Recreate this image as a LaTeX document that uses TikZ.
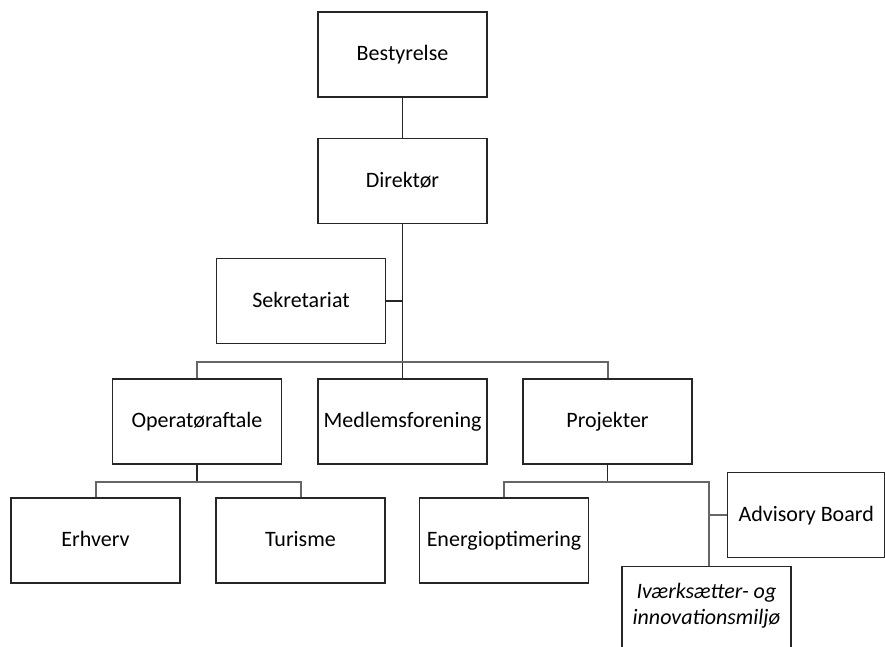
\documentclass[tikz,border=0pt]{standalone}
\usepackage{fontspec}
\setmainfont{Carlito}
\begin{document}
\begin{tikzpicture}[x=1pt,y=-1pt,
  box/.style={draw=black!85,line width=1.4pt,minimum width=169pt,minimum height=85pt,inner sep=0pt,align=center,font=\fontsize{22}{27}\selectfont,text height=17pt,text depth=5pt},
  lbl/.style={align=center,inner sep=0pt,font=\fontsize{22}{26}\selectfont\itshape},
  vline/.style={draw=black!85,line width=1.8pt},
  hline/.style={draw=black!60,line width=2pt}]
\useasboundingbox (0,0) rectangle (885,646);
\clip (0,0) rectangle (885,646);
\node[box] (best) at (402.5,54.5) {Bestyrelse};
\node[box] (dir) at (402.5,181) {Direktør};
\node[box] (sek) at (301,301) {Sekretariat};
\node[box] (op) at (197,421.5) {Operatøraftale};
\node[box] (med) at (402.5,421.5) {Medlemsforening};
\node[box] (proj) at (607.5,421.5) {Projekter};
\node[box] (erh) at (95.5,540.5) {Erhverv};
\node[box] (tur) at (300.5,540.5) {Turisme};
\node[box] (ene) at (504,540.5) {Energioptimering};
\node[box,minimum width=157pt,anchor=west] (adv) at (727,515) {Advisory Board};
\node[box,anchor=north] (ivk) at (706.5,566) {};
\node[lbl] (ivkt) at (706.5,606) {Iværksætter- og\\innovationsmiljø};
\coordinate (b1) at (402.5,362);
\coordinate (b2) at (197,482);
\coordinate (b3) at (607.5,482);
\coordinate (b4) at (709,482);
\draw[vline] (best) -- (dir);
\draw[vline] (dir.south) -- (med.north);
\draw[vline] (sek.east) -- (sek.east -| dir.south);
\draw[hline] (op.north) |- (b1) -| (proj.north);
\draw[vline] (op.south) -- (b2);
\draw[hline] (erh.north) |- (b2) -| (tur.north);
\draw[vline] (proj.south) -- (b3);
\draw[hline] (ene.north) |- (b4) -- (b4 |- ivk.north);
\draw[hline] (adv.west) -- (adv.west -| b4);
\end{tikzpicture}
\end{document}
